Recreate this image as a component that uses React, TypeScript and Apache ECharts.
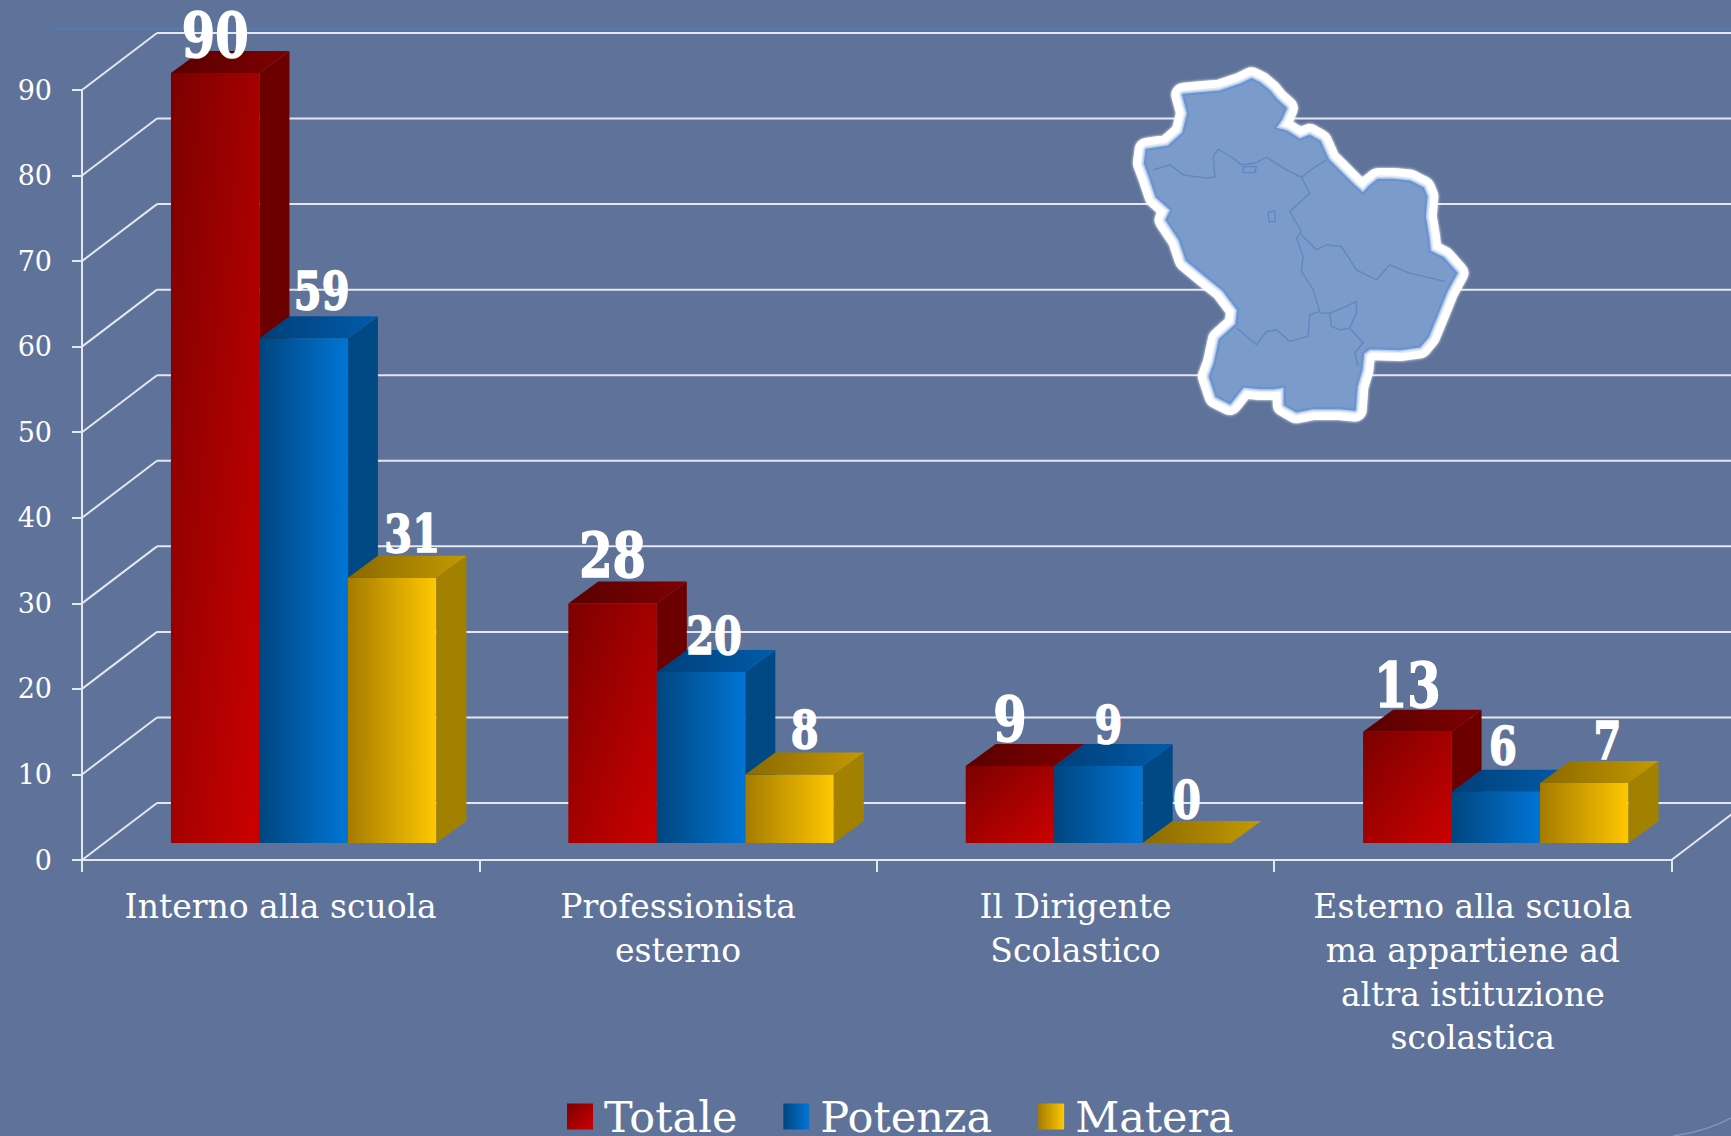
import React, { useEffect, useRef } from "react";
import * as echarts from "echarts";

const categories = [
  "Interno alla scuola",
  "Professionista\nesterno",
  "Il Dirigente\nScolastico",
  "Esterno alla scuola\nma appartiene ad\naltra istituzione\nscolastica",
];
const seriesNames = ["Totale", "Potenza", "Matera"];
const totale = [90, 28, 9, 13];
const potenza = [59, 20, 9, 6];
const matera = [31, 8, 0, 7];
const seriesValues = [totale, potenza, matera];
const gridTicks = [0, 10, 20, 30, 40, 50, 60, 70, 80, 90];

const FONT = '"DejaVu Serif", serif';
const BG = "#5f7299";
const LINE = "#e3e7ef";

// layout of the pseudo-3D box, in pixels
const WALL_DX = 75;
const WALL_DY = -57;
const BAR_SHIFT_X = 23;
const BAR_SHIFT_Y = -17;
const DEPTH_X = 30;
const DEPTH_Y = -22;
const BAR_FRACTION = 88.5 / 397.4;

// value label placement per series, per category
const labelLift = [
  [38, 48, 47, 47],
  [48, 36, 41, 46],
  [44, 45, 43, 43],
];
const labelShift = [
  [0, 0, 0, 0],
  [18, 13, 10, 7],
  [20, 15, 0, 23],
];
const labelSize = [48, 40, 40];

const lg = (x2: number, y2: number, a: string, b: string) =>
  new echarts.graphic.LinearGradient(0, 0, x2, y2, [
    { offset: 0, color: a },
    { offset: 1, color: b },
  ]);

const faces = [
  { front: () => lg(1, 1, "#7c0000", "#cc0000"), side: "#6c0000", top: () => lg(1, 0, "#5a0000", "#7e0000"), legend: () => lg(1, 1, "#7c0000", "#cc0000") },
  { front: () => lg(1, 0, "#00467f", "#0075d6"), side: "#004985", top: () => lg(1, 0, "#003f78", "#005cab"), legend: () => lg(1, 0, "#00467f", "#0075d6") },
  { front: () => lg(1, 0, "#a57b00", "#ffc800"), side: "#a38100", top: () => lg(1, 0, "#8a6900", "#c49a00"), legend: () => lg(1, 0, "#a57b00", "#ffc800") },
];

const OUTLINE =
  "M455,88 L480,100 L510,125 L530,150 L558,175 L545,205 L525,235 L560,245 L600,270 L630,258 L660,275 L685,330 L720,365 L760,405 L790,432 L810,410 L835,390 L880,390 L930,395 L970,415 L980,440 L975,500 L985,560 L990,605 L1030,625 L1070,670 L1040,725 L1010,800 L985,860 L960,890 L900,898 L810,895 L790,910 L785,960 L770,1010 L765,1080 L720,1075 L680,1075 L640,1075 L590,1085 L555,1065 L555,1010 L520,1015 L480,1015 L430,1010 L390,1060 L350,1040 L330,980 L345,940 L360,870 L410,825 L415,780 L370,720 L320,680 L260,630 L240,570 L200,510 L215,480 L170,440 L150,380 L135,340 L140,300 L205,290 L250,250 L265,190 L250,135 L300,130 L360,125 L420,105 Z";
const BORDERS =
  "M160,360 L210,345 L250,375 L320,385 L345,380 L340,320 L355,298 L400,325 L425,345 L465,340 L500,322 L560,360 L605,382 L630,430 L570,485 L605,545 L590,565 L610,620 L605,665 L640,720 L660,785 L630,795 L625,860 L570,875 L530,840 L500,845 L470,885 L410,835 M605,382 L640,355 L680,330 M605,555 L650,600 L680,585 L725,590 L770,660 L830,690 L870,645 L930,670 L1035,695 M660,790 L690,790 L740,770 L770,755 L770,790 L750,835 L790,880 L765,910 L775,950 M690,790 L695,830 L720,840 L750,835 M430,350 L470,350 L465,368 L430,368 Z M505,487 L525,483 L527,515 L507,515 Z";

echarts.graphic.registerShape("regionOutline", echarts.graphic.extendPath(OUTLINE as any, {}) as any);
echarts.graphic.registerShape("regionBorders", echarts.graphic.extendPath(BORDERS as any, {}) as any);

function wallItem(params: any, api: any) {
  const sys = params.coordSys;
  const y = api.coord([0, api.value(0)])[1];
  const x0 = sys.x;
  const x1 = sys.x + sys.width;
  const line = (a: number, b: number, c: number, d: number) => ({
    type: "line",
    shape: { x1: a, y1: b, x2: c, y2: d },
    style: { stroke: LINE, lineWidth: 2 },
  });
  const children: any[] = [
    line(x0, y, x0 + WALL_DX, y + WALL_DY),
    line(x0 + WALL_DX, y + WALL_DY, x1 + WALL_DX, y + WALL_DY),
  ];
  if (api.value(0) === 0) children.push(line(x1, y, x1 + WALL_DX, y + WALL_DY));
  return { type: "group", children };
}

function barRenderer(index: number) {
  return (params: any, api: any) => {
    const cat = api.value(0);
    const val = api.value(1);
    const p = api.coord([cat, val]);
    const base = api.coord([cat, 0]);
    const band = api.size([1, 0])[0];
    const w = band * BAR_FRACTION;
    const cx = p[0] + BAR_SHIFT_X + (index - 1) * w;
    const xL = cx - w / 2;
    const xR = cx + w / 2;
    const yT = p[1] + BAR_SHIFT_Y;
    const yB = base[1] + BAR_SHIFT_Y;
    const f = faces[index];
    const scale = 1.3;
    return {
      type: "group",
      children: [
        {
          type: "rect",
          shape: { x: xL, y: yT, width: w, height: Math.max(0, yB - yT) },
          style: { fill: f.front() },
        },
        {
          type: "polygon",
          shape: { points: [[xR, yT], [xR + DEPTH_X, yT + DEPTH_Y], [xR + DEPTH_X, yB + DEPTH_Y], [xR, yB]] },
          style: { fill: f.side },
        },
        {
          type: "polygon",
          shape: { points: [[xL, yT], [xR, yT], [xR + DEPTH_X, yT + DEPTH_Y], [xL + DEPTH_X, yT + DEPTH_Y]] },
          style: { fill: f.top() },
        },
        {
          type: "text",
          x: cx + labelShift[index][cat],
          y: yT - labelLift[index][cat],
          scaleY: scale,
          style: {
            text: String(val),
            fill: "#ffffff",
            stroke: "#ffffff",
            lineWidth: 1.2,
            fontFamily: FONT,
            fontWeight: "bold",
            fontSize: labelSize[index],
            align: "center",
            verticalAlign: "middle",
          },
        },
      ],
    };
  };
}

const regionLayer = (z: number, style: any) => ({
  type: "regionOutline",
  z,
  x: 1100,
  y: 50,
  scaleX: 1 / 3,
  scaleY: 1 / 3,
  style: { lineJoin: "round", ...style },
});

export default function App() {
  const ref = useRef<HTMLDivElement>(null);
  useEffect(() => {
    const chart = echarts.init(ref.current!, undefined, { renderer: "svg" });
    chart.setOption({
      animation: false,
      backgroundColor: BG,
      grid: { left: 82, top: 90, width: 1589.5, height: 770, containLabel: false },
      xAxis: {
        type: "category",
        data: categories,
        axisLine: { lineStyle: { color: LINE, width: 2 } },
        axisTick: { show: true, alignWithLabel: false, length: 12, lineStyle: { color: LINE, width: 2 } },
        axisLabel: { interval: 0, color: "#ffffff", fontFamily: FONT, fontSize: 33, lineHeight: 43.6, margin: 25, verticalAlign: "top" },
      },
      yAxis: {
        type: "value",
        min: 0,
        max: 90,
        interval: 10,
        splitLine: { show: false },
        axisLine: { show: true, lineStyle: { color: LINE, width: 2 } },
        axisTick: { show: true, length: 10, lineStyle: { color: LINE, width: 2 } },
        axisLabel: { color: "#ffffff", fontFamily: FONT, fontSize: 27, margin: 30 },
      },
      legend: {
        data: seriesNames,
        left: 567,
        top: 1095,
        padding: 0,
        itemWidth: 26,
        itemHeight: 26,
        itemGap: 46,
        icon: "rect",
        textStyle: { color: "#ffffff", fontFamily: FONT, fontSize: 43, lineHeight: 38, padding: [0, 0, 0, 6] },
      },
      graphic: [
        {
          type: "line",
          z: 1,
          shape: { x1: 54, y1: 29, x2: 1731, y2: 29 },
          style: { stroke: "#4a80bd", lineWidth: 1.5 },
        },
        {
          type: "bezierCurve",
          z: 1,
          shape: { x1: 1673, y1: 1136, cpx1: 1695, cpy1: 1133, cpx2: 1715, cpy2: 1127, x2: 1731, y2: 1118 },
          style: { stroke: "#7f94bb", lineWidth: 1.5, fill: null },
        },
        regionLayer(5, { fill: "#ffffff", stroke: "#ffffff", lineWidth: 72, shadowBlur: 3, shadowColor: "#ffffff" }),
        regionLayer(6, { fill: null, stroke: "#e4ecf7", lineWidth: 26 }),
        regionLayer(7, { fill: null, stroke: "#b6cbe9", lineWidth: 16 }),
        regionLayer(8, { fill: "#7b9ccb", stroke: "#6a93cf", lineWidth: 7 }),
        {
          type: "regionBorders",
          z: 9,
          x: 1100,
          y: 50,
          scaleX: 1 / 3,
          scaleY: 1 / 3,
          style: { fill: null, stroke: "#6086c2", lineWidth: 4, lineJoin: "round" },
        },
      ],
      series: [
        {
          name: "wall",
          type: "custom",
          z: 1,
          silent: true,
          renderItem: wallItem,
          data: gridTicks.map((v) => [v]),
          encode: { y: 0 },
          clip: false,
        },
        ...seriesNames.map((name, i) => ({
          name,
          type: "custom",
          z: 10 + i,
          itemStyle: { color: faces[i].legend() },
          renderItem: barRenderer(i),
          data: seriesValues[i].map((v, c) => [c, v]),
          encode: { x: 0, y: 1 },
          clip: false,
        })),
      ],
    });
    return () => chart.dispose();
  }, []);
  return <div ref={ref} style={{ position: "absolute", left: 0, top: 0, width: 1731, height: 1136 }} />;
}
